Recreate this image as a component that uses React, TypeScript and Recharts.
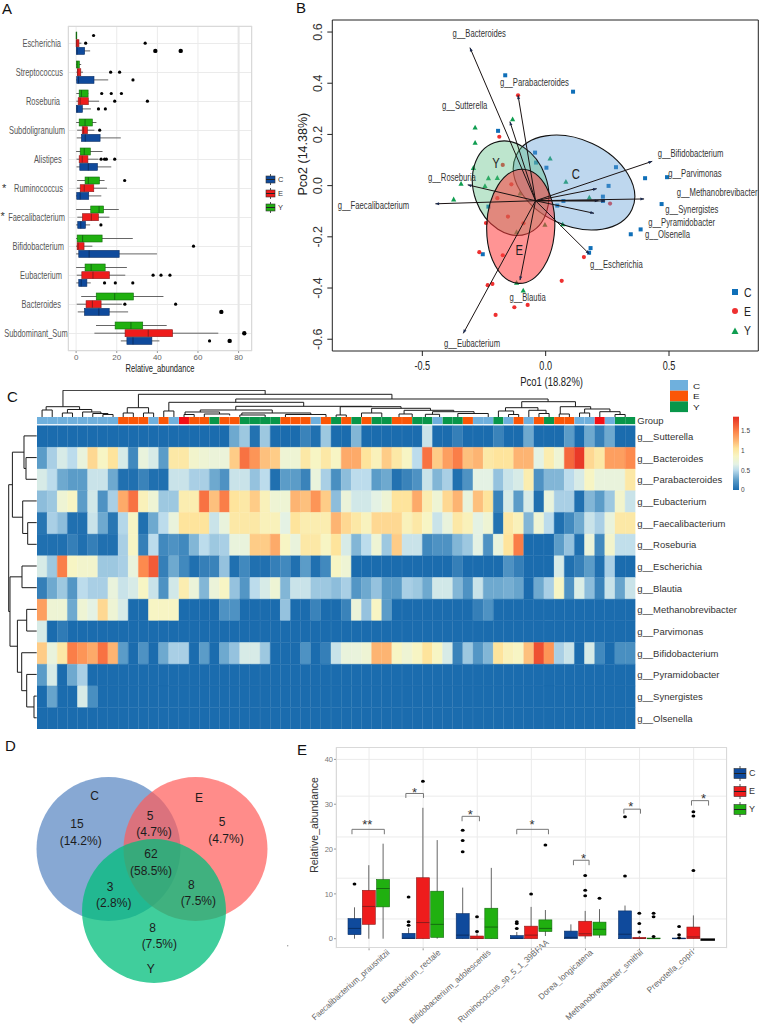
import React from "react";
import {
  Bar,
  BarChart,
  CartesianGrid,
  Cell,
  ComposedChart,
  ReferenceArea,
  ReferenceDot,
  ReferenceLine,
  Scatter,
  ScatterChart,
  XAxis,
  YAxis,
} from "recharts";

const SANS = "'Liberation Sans', Arial, sans-serif";
const BOX_COLORS: Record<string, string> = { C: "#0f4a9c", E: "#ee1c1c", Y: "#20b010" };

// lo, q1, median, q3, hi, outliers
type Stat = [number, number, number, number, number, number[]];

// panel A
const aTaxa = [
  "Escherichia", "Streptococcus", "Roseburia", "Subdoligranulum", "Alistipes", "Ruminococcus",
  "Faecalibacterium", "Bifidobacterium", "Eubacterium", "Bacteroides", "Subdominant_Sum",
];
const aTickEnds = [61, 63, 60, 65, 61.7, 63, 65, 64, 62, 61, 67.7];
const aBigDots = [39, 51.5, 71.5, 75.6, 82.8];
const aY: Stat[] = [
  [0, 0.05, 0.1, 0.3, 0.4, [8.6]],
  [0.1, 0.2, 0.5, 1.6, 2.5, []],
  [0.1, 1.5, 2.6, 5.9, 6, [12.6, 17.3, 22.3]],
  [0, 1.5, 4.4, 8, 10, []],
  [0, 2, 4, 7, 13, []],
  [0.5, 4.4, 6, 11.5, 14, [23.9]],
  [0, 7.2, 11.3, 13.5, 21, []],
  [0, 0.5, 3.2, 12.8, 27.9, []],
  [0, 4.4, 7.4, 14.3, 25, []],
  [2.5, 9.9, 19, 28.2, 43, []],
  [9.8, 19.2, 27, 32.8, 44.6, []],
];
const aE: Stat[] = [
  [0, 0, 0.3, 1.4, 2.6, [4.7, 34]],
  [0.1, 0.6, 0.8, 2.3, 3.4, [17, 21.4]],
  [0.1, 1, 2, 6, 11.3, [19, 35.1]],
  [0.5, 3, 3.7, 5.6, 9, [11.6]],
  [0.2, 1.5, 3, 5.8, 11, [12.3, 14, 14.9, 19]],
  [0.3, 2, 4, 8.7, 15.2, []],
  [0.6, 3.1, 7.5, 11, 16.4, []],
  [0, 0.5, 1, 3.9, 8, [57.8]],
  [0.3, 2.8, 8.3, 16.4, 24.2, [37.9, 41.8, 46.2]],
  [0.3, 4.9, 8, 12.3, 22.5, [24, 49]],
  [9, 24.1, 35.5, 47.5, 70, [82.8]],
];
const aC: Stat[] = [
  [0, 0.1, 0.5, 4.2, 6.9, [39, 51.5]],
  [0, 0.3, 1.2, 8.8, 15.8, [28]],
  [0, 0.1, 0.5, 3.1, 7.3, [11, 14.4]],
  [0.3, 2.6, 4.5, 11.8, 22, []],
  [0.2, 1.8, 6, 10.5, 17.3, []],
  [0, 0.3, 2, 6.2, 12.4, []],
  [0, 0.8, 2.3, 4.6, 6.9, [12.2]],
  [0, 1.3, 6.4, 21.2, 39.8, []],
  [0.1, 1.3, 2.5, 5.3, 7.2, [14, 19.3, 27.9]],
  [0.8, 4.1, 11.2, 16.3, 25.6, [71.5]],
  [22, 25, 28, 37.3, 41, [65.7, 75.6]],
];

// panel B
const bPointsC = [
  [-0.164, 0.431], [0.111, 0.367], [-0.193, 0.214], [-0.043, 0.129], [-0.039, 0.09], [0.003, 0.07],
  [0.285, 0.072], [0.403, 0.029], [0.492, 0.033], [0.255, -0.001], [0.232, -0.043], [0.232, -0.06],
  [0.047, -0.078], [0.47, -0.072], [0.385, -0.171], [0.345, -0.19], [0.182, -0.244], [0.176, -0.262],
  [-0.255, -0.268], [-0.232, -0.082], [0.072, -0.06],
];
const bPointsE = [
  [-0.112, 0.353], [-0.188, 0.191], [-0.174, 0.081], [-0.139, 0.005], [-0.196, -0.049], [-0.153, -0.121],
  [-0.242, -0.146], [0.261, -0.07], [-0.269, -0.26], [-0.174, -0.272], [0.155, -0.279], [-0.235, -0.389],
  [-0.216, -0.384], [0.065, -0.372], [-0.073, -0.466], [-0.127, -0.475], [-0.203, -0.505], [-0.09, -0.147],
];
const bPointsY = [
  [-0.134, 0.26], [-0.286, 0.228], [-0.286, 0.168], [-0.293, 0.07], [-0.232, 0.03], [-0.196, 0.031],
  [-0.246, -0.001], [-0.343, 0.008], [-0.373, -0.053], [0.018, 0.107], [0.082, 0.016], [0.177, -0.046],
  [0.069, -0.15], [-0.003, -0.152], [-0.118, -0.181], [-0.091, -0.409], [-0.118, -0.379], [-0.104, -0.03],
];
const bOrigin = [-0.041, -0.059];
const bArrowTips = [
  [-0.307, 0.539], [-0.112, 0.353], [-0.145, 0.25], [0.432, 0.095], [-0.447, -0.071], [-0.316, 0.003],
  [0.207, -0.012], [0.399, -0.052], [0.214, -0.059], [0.241, -0.06], [0.196, -0.108], [0.177, -0.267],
  [-0.104, -0.369], [-0.334, -0.577],
];
const bLabels = [
  "g__Bacteroides", "g__Parabacteroides", "g__Sutterella", "g__Bifidobacterium", "g__Parvimonas",
  "g__Methanobrevibacter", "g__Synergistes", "g__Pyramidobacter", "g__Olsenella", "g__Escherichia",
  "g__Blautia", "g__Eubacterium", "g__Faecalibacterium", "g__Roseburia",
];
const bLabelSpots = [
  [-0.378, 0.596], [-0.185, 0.406], [-0.42, 0.3125], [0.454, 0.128], [0.497, 0.048],
  [0.531, -0.025], [0.485, -0.091], [0.416, -0.141], [0.403, -0.189], [0.18, -0.306],
  [-0.147, -0.434], [-0.412, -0.616], [-0.843, -0.076], [-0.477, 0.035],
];
// name, cx, cy, rx, ry, rotation in degrees, fill
const bEllipses: [string, number, number, number, number, number, string][] = [
  ["C", 0.115, 0.012, 0.259, 0.168, 25, "rgba(100,160,215,0.42)"],
  ["Y", -0.142, -0.01, 0.149, 0.189, -20, "rgba(90,190,130,0.4)"],
  ["E", -0.101, -0.159, 0.138, 0.223, 2, "rgba(255,60,60,0.55)"],
];
const bEllipseLetters: [string, number, number][] = [
  ["C", 0.122, 0.046],
  ["Y", -0.201, 0.09],
  ["E", -0.107, -0.249],
];

// panel C
const cGroups = [
  "C", "C", "C", "C", "C", "C", "C", "C", "E", "E", "E", "C", "E", "C", "R", "E", "E", "Y", "E", "E",
  "Y", "Y", "Y", "Y", "E", "E", "E", "C", "E", "Y", "E", "Y", "E", "Y", "Y", "E", "E", "Y", "Y", "C",
  "Y", "Y", "E", "C", "C", "Y", "C", "E", "C", "E", "Y", "E", "E", "C", "C", "R", "C", "Y", "Y",
];
const cGroupColors: Record<string, string> = { C: "#6fb0dd", E: "#fb5607", Y: "#08964a", R: "#f50f14" };
const cGenera = [
  "g__Sutterella", "g__Bacteroides", "g__Parabacteroides", "g__Eubacterium", "g__Faecalibacterium",
  "g__Roseburia", "g__Escherichia", "g__Blautia", "g__Methanobrevibacter", "g__Parvimonas",
  "g__Bifidobacterium", "g__Pyramidobacter", "g__Synergistes", "g__Olsenella",
];
const heatSutterella = [
  0, 0, 0, 0, 0, 0, 0, 0, 0, 0,
  0, 0, 0, 0, 0, 0, 0, 0, 0, 0.3,
  0.42, 0.03, 0.42, 0, 0, 0, 0.12, 0.02, 0.42, 0,
  0, 0.35, 0, 0, 0, 0, 0, 0, 0.55, 0,
  0, 0.1, 0, 0, 0, 0.12, 0, 0, 0.3, 0,
  0, 0, 0.25, 0, 0.3, 0.1, 0.3, 0, 0,
];
const heatBacteroides = [
  0.25, 0.45, 0.6, 0.5, 0.7, 1.1, 0.85, 1.05, 0.6, 0.15,
  0.7, 0.6, 0.25, 1, 1, 0.8, 0.75, 0.72, 0.72, 1.15,
  1.55, 1.4, 1.2, 1.15, 0.75, 0.75, 1, 0.85, 1, 0.85,
  1.3, 1.3, 1.05, 0.9, 1.15, 1, 0.85, 0.5, 1.55, 1.15,
  1.35, 1.5, 1.2, 1.25, 1, 1.05, 1.05, 1.25, 1.25, 0.65,
  0.95, 0.75, 1.6, 1.8, 1.1, 1, 1.35, 1.35, 1.45,
];
const heatParabacteroides = [
  0.6, 0.5, 0.3, 0.25, 0.25, 0.55, 0.55, 0.3, 0.02, 0.02,
  0.12, 0.02, 0.02, 0.55, 0.55, 0.45, 0.45, 0.3, 0.2, 0.55,
  0.55, 0.4, 0.5, 0.02, 0.25, 0.25, 0.12, 0.7, 0.45, 0.18,
  0.38, 0.5, 0.5, 0.25, 0.3, 0.03, 0.12, 0.2, 0.55, 0.35,
  0.45, 0.02, 0.2, 0.65, 0.65, 0.4, 0.55, 0.6, 0.95, 0.2,
  0.35, 0.35, 0.5, 0.6, 0.85, 0.7, 0.7, 0.7, 1,
];
const heatEubacterium = [
  0.38, 0.42, 0.75, 0.85, 0.25, 0.58, 0.2, 0.45, 1.3, 1.55,
  0.9, 0.75, 0.42, 0.42, 0.95, 0.95, 1.55, 1.2, 1.5, 1.05,
  1, 1.15, 0.9, 0.75, 0.75, 1.25, 1.2, 1.4, 1.15, 0.38,
  0.72, 0.58, 0.58, 0.65, 0.75, 1.05, 1.05, 1.3, 0.95, 0.75,
  1.1, 1.25, 0.7, 1.2, 1.05, 0.12, 0.6, 0.25, 0.6, 0.02,
  0.7, 0.45, 0.45, 0.02, 0.35, 0.25, 0.42, 0.8, 0.55,
];
const heatFaecalibacterium = [
  0.05, 0.45, 0.38, 0.02, 0.02, 0.55, 0.3, 0.05, 0.48, 0.85,
  0.02, 0.3, 0.5, 0.7, 1.05, 1.05, 1.05, 0.55, 0.7, 1,
  1, 1, 0.9, 0.9, 0.65, 1.05, 0.95, 0.95, 0.95, 1.25,
  1.1, 1, 0.88, 1.1, 1.1, 1.1, 0.9, 1, 0.85, 0.55,
  0.7, 1, 0.9, 0.65, 0.75, 0.03, 1, 0.9, 0.35, 0.75,
  0.5, 0.02, 0.15, 0.3, 0.55, 0.45, 0.7, 1, 1,
];
const heatRoseburia = [
  0.02, 0.02, 0.02, 0.1, 0.02, 0.1, 0.02, 0.02, 0.45, 0.85,
  0.1, 0.5, 0.15, 0.2, 0.15, 0.35, 0.5, 0.42, 0.45, 0.7,
  0.7, 1.15, 1.15, 1.3, 0.85, 0.7, 1, 1, 0.85, 1.05,
  0.6, 0.35, 0.5, 0.75, 0.42, 1.15, 0.55, 0.55, 0.15, 0.2,
  0.2, 0.35, 0.42, 0.65, 0.2, 0.7, 1.05, 1.5, 0, 0,
  0, 0.25, 0.4, 0.02, 0.72, 0.15, 0.8, 0.52, 0.52,
];
const heatEscherichia = [
  0.6, 0.42, 1.5, 0.85, 0.8, 0.8, 0.42, 0.42, 0.45, 0.7,
  1.45, 1.65, 0.1, 0.3, 0.15, 0.02, 0.1, 0.12, 0.4, 0.02,
  0.15, 0.02, 0.02, 0.1, 0.15, 0.02, 0.25, 0.02, 0.15, 0.85,
  0.75, 0, 0, 0, 0, 0, 0, 0, 0, 0,
  0, 0.1, 0, 0, 0, 0, 0.2, 0.1, 0, 0,
  0, 0.6, 0.02, 0.1, 0.25, 0.02, 0.45, 0, 0,
];
const heatBlautia = [
  0.1, 0.3, 0.42, 0.22, 0.5, 0.45, 0.45, 0.7, 0.55, 0.6,
  0.85, 0.55, 0.2, 0.58, 0.95, 0.72, 0.35, 0.72, 0.85, 0.4,
  0.22, 0.5, 0.6, 0.75, 0.35, 0.55, 0.55, 0.42, 0.42, 0.38,
  0.45, 0.22, 0.3, 0.4, 0.25, 0.25, 0.45, 0.42, 0.3, 0.58,
  0.58, 0.35, 0.2, 0.55, 0.3, 0.3, 0.32, 0.28, 0, 0.3,
  0.45, 0.85, 0.2, 0.62, 0.38, 0.12, 0.55, 0.28, 0.55,
];
const heatMethanobrevibacter = [
  1.35, 0.75, 0.75, 0.3, 0.75, 0.65, 1.1, 0.75, 0.6, 0,
  0, 0.85, 0.85, 0.85, 0, 0, 0, 0, 0.2, 0.2,
  0, 0, 0, 0, 0.4, 0, 0, 0.12, 0, 0,
  0.12, 0.72, 0.4, 0.85, 0.25, 0, 0, 0, 0, 0,
  0, 0, 0, 0.1, 0.2, 0, 0, 0, 0, 0,
  0, 0, 0, 0, 0, 0, 0, 0, 0,
];
const heatParvimonas = [
  0.6, 0, 0.08, 0, 0, 0, 0, 0, 0, 0,
  0, 0, 0, 0, 0, 0, 0, 0, 0, 0,
  0, 0, 0, 0, 0, 0, 0, 0, 0, 0,
  0, 0, 0, 0, 0, 0, 0, 0, 0, 0,
  0, 0, 0, 0, 0, 0, 0, 0, 0, 0,
  0, 0, 0, 0, 0, 0, 0, 0, 0,
];
const heatBifidobacterium = [
  1.15, 0.7, 1, 1.5, 1.4, 1.3, 1.55, 1.25, 0.25, 0,
  0.2, 0, 0.3, 0.45, 0.45, 0, 0.25, 0, 0.3, 0.4,
  0.6, 0.6, 0.42, 0, 0, 0, 0.2, 0, 0.1, 0.55,
  0.7, 0.7, 0.75, 1.25, 1.25, 0.85, 0.75, 0.85, 1.05, 0.85,
  0.6, 0.12, 0.42, 0.22, 0.35, 1.05, 0.9, 0.85, 1.2, 1.7,
  1.4, 0.45, 0.55, 0, 0.6, 0.15, 0, 0.18, 0.18,
];
const heatPyramidobacter = [
  0.25, 0.6, 0, 0.3, 0.45, 0, 0, 0, 0, 0,
  0, 0, 0, 0, 0, 0, 0, 0, 0, 0,
  0, 0, 0, 0, 0, 0, 0, 0, 0, 0,
  0, 0, 0, 0, 0, 0, 0, 0, 0, 0,
  0, 0, 0, 0, 0, 0, 0, 0, 0, 0,
  0, 0, 0, 0, 0, 0, 0, 0, 0,
];
const heatSynergistes = [
  0, 0.28, 0, 0, 0.6, 0.18, 0, 0, 0, 0,
  0, 0, 0, 0, 0, 0, 0, 0, 0, 0,
  0, 0, 0, 0, 0, 0, 0, 0, 0, 0,
  0, 0, 0, 0, 0, 0, 0, 0, 0, 0,
  0, 0, 0, 0, 0, 0, 0, 0, 0, 0,
  0, 0, 0, 0, 0, 0, 0, 0, 0,
];
const heatOlsenella = [
  0, 0, 0, 0, 0, 0, 0, 0, 0, 0,
  0, 0, 0, 0, 0, 0, 0, 0, 0, 0,
  0, 0, 0, 0, 0, 0, 0, 0, 0, 0,
  0, 0, 0, 0, 0, 0, 0, 0, 0, 0,
  0, 0, 0, 0, 0, 0, 0, 0, 0, 0,
  0, 0, 0, 0, 0, 0, 0, 0, 0,
];
const heatRows = [
  heatSutterella, heatBacteroides, heatParabacteroides, heatEubacterium, heatFaecalibacterium,
  heatRoseburia, heatEscherichia, heatBlautia, heatMethanobrevibacter, heatParvimonas,
  heatBifidobacterium, heatPyramidobacter, heatSynergistes, heatOlsenella,
];
// a, b, height, height of a, height of b
const topMerges = [
  [2.56, 22.5, 26.7, 10.3, 22.7],
  [0.9, 4.2, 10.3, 7, 7.5],
  [0.5, 1.5, 7, 0, 0],
  [3, 5.4, 7.5, 4, 5],
  [2.5, 3.5, 4, 0, 0],
  [4.5, 6.3, 5, 0, 3.5],
  [5.5, 7, 3.5, 0, 2.5],
  [6.5, 7.5, 2.5, 0, 0],
  [10, 35, 22.7, 9.3, 18],
  [8.9, 11, 9.3, 4, 4],
  [8.5, 9.5, 4, 0, 0],
  [10.5, 11.5, 4, 0, 0],
  [19.6, 50.4, 18, 14.7, 15.3],
  [13, 26.3, 14.7, 6, 10.7],
  [12.5, 13.5, 6, 0, 0],
  [19.6, 33, 10.7, 7, 10.3],
  [16.1, 23.2, 7, 5, 4],
  [14.6, 18, 5, 2.5, 3],
  [14.5, 15.5, 2.5, 0, 0],
  [16.5, 19, 3, 0, 1.5],
  [20.2, 27, 4, 2, 2.5],
  [20, 22.5, 2, 0, 0],
  [24.5, 28.5, 2.5, 0, 0],
  [29.9, 35.9, 10.3, 2, 8.7],
  [29.5, 30.5, 2, 0, 0],
  [33, 38.8, 8.7, 4, 6.7],
  [32, 34, 4, 0, 0],
  [36.2, 41.1, 6.7, 3, 5.3],
  [35.7, 37, 3, 0, 0],
  [39, 43.1, 5.3, 2.7, 3.5],
  [38.3, 39.7, 2.7, 0, 0],
  [41.5, 44.5, 3.5, 0, 0],
  [47.8, 53.1, 15.3, 9.3, 10.3],
  [46.2, 49.4, 9.3, 6, 6.7],
  [45.5, 47, 6, 0, 2.5],
  [46.5, 47.5, 2.5, 0, 0],
  [48.5, 50.2, 6.7, 0, 3.5],
  [49.5, 50.5, 3.5, 0, 0],
  [51.6, 54.6, 10.3, 3, 8],
  [51.5, 52.5, 3, 0, 0],
  [54, 56.5, 8, 4, 5.3],
  [53.5, 54.5, 4, 0, 0],
  [55.5, 57.5, 5.3, 0, 2.5],
  [57, 58, 2.5, 0, 0],
];
const leftMerges = [
  [1.5, 2.5, 10.7, 0, 0],
  [0.5, 2, 12.7, 0, 10.7],
  [4.5, 5.5, 9, 0, 0],
  [3.5, 5, 14, 0, 9],
  [1.25, 4.25, 24.3, 12.7, 14],
  [6.5, 7.5, 14.7, 0, 0],
  [8.5, 9.5, 10, 0, 0],
  [12.5, 13.5, 2.7, 0, 0],
  [11.5, 13, 10, 0, 2.7],
  [10.5, 12.25, 15, 0, 10],
  [9, 11.4, 19.3, 10, 15],
  [7, 10.2, 26.7, 14.7, 19.3],
  [2.75, 8.6, 28, 24.3, 26.7],
];
const colorStops: [number, string][] = [
  [0, "#1b6cae"], [0.25, "#5b9cc8"], [0.5, "#bcdcec"], [0.65, "#e4f2e4"], [0.85, "#f7f5c4"],
  [1.05, "#fee49c"], [1.25, "#fdb472"], [1.45, "#fd8a4e"], [1.62, "#f4623a"], [1.85, "#e62e22"],
];

// panel D
const vennCircles: [number, number, string][] = [
  [108.5, 114, "rgba(84,131,192,0.7)"],
  [195.5, 114, "rgba(255,91,88,0.7)"],
  [154, 176, "rgba(0,190,123,0.75)"],
];
const vennLabels: [string, number, number][] = [
  ["C", 94.7, 61], ["E", 199, 63], ["Y", 150.7, 234],
  ["15", 77, 89], ["(14.2%)", 80.7, 105.7],
  ["5", 150, 81], ["(4.7%)", 154, 97],
  ["5", 222, 87], ["(4.7%)", 226, 103.7],
  ["62", 151, 119], ["(58.5%)", 151, 135.7],
  ["3", 110, 151.7], ["(2.8%)", 113.7, 167.7],
  ["8", 191.3, 149.3], ["(7.5%)", 198.3, 165.3],
  ["8", 152.7, 192.7], ["(7.5%)", 159.3, 209],
];

// panel E
const eTaxa = [
  "Faecalibacterium_prausnitzii", "Eubacterium_rectale", "Bifidobacterium_adolescentis",
  "Ruminococcus_sp_5_1_39BFAA", "Dorea_longicatena", "Methanobrevibacter_smithii", "Prevotella_copri",
];
const eTickLengths = [101, 76, 106, 119, 70, 100.7, 60];
const eTickEnds = [21, 18, 14, 18, 8, 4, 1];
const eTickRise = [0, 0, 0, 10, 0, 0, 0];
const eGridValues = [0, 4.4, 9, 10, 13.5, 18, 20, 22.7, 30, 31.8, 36.7, 40];
const eC: Stat[] = [
  [0, 0.9, 2.3, 4.5, 7, [12.2]],
  [0, 0, 0.1, 1.2, 2.4, [3, 3.8, 9.3]],
  [0, 0, 0.8, 5.6, 11.4, [19.4, 21.9, 24.2]],
  [0, 0, 0.1, 0.7, 1.5, [2.3, 3.4, 3.8]],
  [0, 0, 0.3, 1.7, 3.2, []],
  [0, 0, 1, 6.2, 7.4, [14, 27.2]],
  [0, 0, 0.02, 0.15, 0.2, [0.2, 0.9, 2.7]],
];
const eE: Stat[] = [
  [0, 3.2, 7.2, 10.8, 16.4, []],
  [0, 0, 3.6, 13.6, 29.2, [35.1]],
  [0, 0, 0.1, 0.6, 1.2, [1.6, 4.9]],
  [0, 0, 0.8, 2.8, 7.1, [10]],
  [0, 0.6, 1.1, 3.9, 6.2, [9.6, 10.8, 14.1]],
  [0, 0, 0.05, 0.3, 0.6, [1.5, 3.4, 5.7]],
  [0, 0, 0.4, 2.6, 5.2, [15.2, 27.4, 28.3]],
];
const eY: Stat[] = [
  [0, 7.1, 11.2, 13.2, 21.2, []],
  [0, 0.3, 3.2, 10.6, 22, []],
  [0, 0, 2.6, 6.8, 15.8, []],
  [0.6, 1.6, 2.3, 4.2, 6.4, [20.9]],
  [0.2, 0.8, 2.1, 3.7, 6.6, [9]],
  [0, 0, 0.02, 0.15, 0.2, [0.5, 4.9, 5.7]],
  [-0.2, -0.3, -0.2, -0.1, -0.1, []],
];
// from, to, top, foot
const eBrackets = [
  [-0.314, 0.283, 24.4, 23.3],
  [0.68, 1.006, 32.4, 31.4],
  [1.717, 2.037, 27.3, 26.2],
  [2.726, 3.311, 24.4, 23.3],
  [3.772, 4.06, 17.5, 16.4],
  [4.702, 5.009, 28.9, 27.9],
  [5.95, 6.265, 30.8, 29.7],
];
const eStars: [string, number, number][] = [
  ["**", -0.03, 25.6],
  ["*", 0.84, 32.7],
  ["*", 1.87, 27.7],
  ["*", 3.01, 25.5],
  ["*", 3.96, 17.8],
  ["*", 4.83, 29.4],
  ["*", 6.17, 31.2],
];

const buildRows = (names: string[], c: Stat[], e: Stat[], y: Stat[]) =>
  names.map((name, i) => ({
    name,
    C: [c[i][1], c[i][3]],
    E: [e[i][1], e[i][3]],
    Y: [y[i][1], y[i][3]],
    stats: { C: c[i], E: e[i], Y: y[i] },
  }));
const aRows = buildRows(aTaxa, aC, aE, aY);
const eRows = buildRows(eTaxa, eC, eE, eY);
const heatData = cGroups.map((group, col) => ({ col, group }));

function heatColor(v: number) {
  for (let i = 1; i < colorStops.length; i++) {
    if (v <= colorStops[i][0]) {
      const [v0, c0] = colorStops[i - 1];
      const [v1, c1] = colorStops[i];
      const t = (v - v0) / (v1 - v0);
      const rgb = [1, 3, 5].map((p) => {
        const a = parseInt(c0.slice(p, p + 2), 16);
        const b = parseInt(c1.slice(p, p + 2), 16);
        return Math.round(a + (b - a) * t);
      });
      return `rgb(${rgb.join(",")})`;
    }
  }
  return colorStops[colorStops.length - 1][1];
}

// the source figure was stretched, so horizontal text is squeezed
function Sq({ x, y, text, size, sx = 0.72, fill = "#333", anchor = "start" }: any) {
  return (
    <text
      transform={`translate(${x} ${y}) scale(${sx} 1)`}
      dy="0.35em"
      fontSize={size}
      fontFamily={SANS}
      fill={fill}
      textAnchor={anchor}
    >
      {text}
    </text>
  );
}

// horizontal box, takes the px/unit ratio from the bar recharts gives it
const hBox = (key: string) => (p: any) => {
  const s: Stat = p.payload.stats[key];
  const k = p.width / (s[3] - s[1] || 1);
  const at = (v: number) => p.x + (v - s[1]) * k;
  const mid = p.y + p.height / 2;
  const dark = key === "E" ? "#8c1c1c" : key === "C" ? "#0a2f66" : "#146b10";
  return (
    <g>
      <line x1={at(s[0])} x2={at(s[4])} y1={mid} y2={mid} stroke="#555" strokeWidth={0.9} />
      <rect x={p.x} y={p.y} width={Math.max(p.width, 0.6)} height={p.height} fill={BOX_COLORS[key]} stroke={dark} strokeWidth={0.6} />
      <line x1={at(s[2])} x2={at(s[2])} y1={p.y} y2={p.y + p.height} stroke={dark} strokeWidth={1} />
      {s[5].map((o, i) => (
        <circle key={i} cx={at(o)} cy={mid} r={aBigDots.includes(o) ? 2.2 : 1.6} fill="#000" />
      ))}
    </g>
  );
};

const vBox = (key: string) => (p: any) => {
  const s: Stat = p.payload.stats[key];
  const h = Math.abs(p.height);
  const bottom = p.y + Math.max(p.height, 0);
  const k = h / (s[3] - s[1] || 1);
  const at = (v: number) => bottom - (v - s[1]) * k;
  const mid = p.x + p.width / 2;
  const dark = key === "E" ? "#8c1c1c" : key === "C" ? "#0a2f66" : "#146b10";
  const flat = s[4] < 0;
  return (
    <g>
      <line x1={mid} x2={mid} y1={at(s[0])} y2={at(s[4])} stroke="#666" strokeWidth={1} />
      <rect x={p.x} y={bottom - h} width={p.width} height={Math.max(h, 0.6)} fill={flat ? "#000" : BOX_COLORS[key]} stroke={flat ? "#000" : dark} strokeWidth={flat ? 1.5 : 0.6} />
      {!flat && <line x1={p.x} x2={p.x + p.width} y1={at(s[2])} y2={at(s[2])} stroke={dark} strokeWidth={1} />}
      {s[5].map((o, i) => (
        <ellipse key={i} cx={mid} cy={at(o)} rx={1.9} ry={1.5} fill="#000" />
      ))}
    </g>
  );
};

const arrowLine = (p: any) => {
  const ang = Math.atan2(p.y2 - p.y1, p.x2 - p.x1);
  const s = 4;
  const ax = p.x2 - s * Math.cos(ang - 0.4);
  const ay = p.y2 - s * Math.sin(ang - 0.4);
  const bx = p.x2 - s * Math.cos(ang + 0.4);
  const by = p.y2 - s * Math.sin(ang + 0.4);
  return (
    <g>
      <line x1={p.x1} y1={p.y1} x2={p.x2} y2={p.y2} stroke="#1a1212" strokeWidth={1} />
      <polygon points={`${p.x2},${p.y2} ${ax},${ay} ${bx},${by}`} fill="#1a2a50" />
    </g>
  );
};

const label = (text: string, size: number, fill: string, anchor = "start", sx = 1) => (p: any) => (
  <Sq x={p.cx} y={p.cy} text={text} size={size} fill={fill} anchor={anchor} sx={sx} />
);

const squareDot = (p: any) => <rect x={p.cx - 2} y={p.cy - 2} width={4} height={4} fill="#0f6fb8" />;
const roundDot = (p: any) => <circle cx={p.cx} cy={p.cy} r={2.1} fill="#ee3030" />;
const triangleDot = (p: any) => (
  <polygon points={`${p.cx - 2.6},${p.cy + 2.2} ${p.cx},${p.cy - 2.6} ${p.cx + 2.6},${p.cy + 2.2}`} fill="#0f9d50" />
);
const noDot = () => null;

const aTaxonTick = (p: any) => (
  <Sq x={aTickEnds[p.index]} y={p.y} text={p.payload.value} size={11} sx={0.68} fill="#555" anchor="end" />
);

const bXTick = (p: any) => (
  <Sq x={p.x} y={p.y + 7} text={Number(p.payload.value).toFixed(1)} size={13} sx={0.7} fill="#222" anchor="middle" />
);

const rotatedTick = (p: any) => (
  <text x={p.x - 3} y={p.y} fontSize={12.5} fill="#333" fontFamily={SANS} textAnchor="middle" transform={`rotate(-90 ${p.x - 3} ${p.y})`}>
    {Number(p.payload.value).toFixed(1)}
  </text>
);

const eTick = (p: any) => {
  const x = p.x + eTickEnds[p.index];
  const y = p.y + 1 - eTickRise[p.index];
  return (
    <text
      x={x}
      y={y}
      fontSize={8.5}
      fill="#666"
      fontFamily={SANS}
      textAnchor="end"
      textLength={eTickLengths[p.index]}
      lengthAdjust="spacingAndGlyphs"
      transform={`rotate(-42 ${x} ${y})`}
    >
      {p.payload.value}
    </text>
  );
};

function BoxKey({ left, top, w, h, tall, color, text, size }: any) {
  const cx = w / 2;
  return (
    <div style={{ position: "absolute", left, top, height: tall, display: "flex", alignItems: "center" }}>
      <svg width={w + 2} height={tall} style={{ display: "block" }}>
        <line x1={cx + 1} x2={cx + 1} y1={0} y2={tall} stroke="#555" />
        <rect x={1} y={(tall - h) / 2} width={w} height={h} fill={color} stroke="#333" strokeWidth={0.6} />
        <line x1={1} x2={w + 1} y1={tall / 2} y2={tall / 2} stroke="#222" />
      </svg>
      <span style={{ fontFamily: SANS, fontSize: size, color: "#333", marginLeft: 2 }}>{text}</span>
    </div>
  );
}

function PanelA() {
  return (
    <div style={{ position: "absolute", left: 0, top: 0 }}>
      <ComposedChart
        width={290}
        height={380}
        data={aRows}
        layout="vertical"
        margin={{ top: 26, right: 38, bottom: 0, left: 0 }}
        barSize={7}
        barGap={0.7}
      >
        <CartesianGrid stroke="#ebebeb" />
        <XAxis
          type="number"
          domain={[-4, 86.6]}
          ticks={[0, 20, 40, 60, 80]}
          height={29}
          tick={{ fontSize: 8, fill: "#666", fontFamily: SANS }}
          tickSize={2}
          tickMargin={1}
          stroke="#999"
          axisLine={false}
        />
        <YAxis
          type="category"
          dataKey="name"
          width={68}
          interval={0}
          padding={{ top: 3, bottom: 3 }}
          tick={aTaxonTick}
          tickSize={0}
          axisLine={false}
        />
        <ReferenceLine x={80} stroke="#e6e6e6" strokeWidth={2} />
        <Bar dataKey="Y" isAnimationActive={false} shape={hBox("Y")} />
        <Bar dataKey="E" isAnimationActive={false} shape={hBox("E")} />
        <Bar dataKey="C" isAnimationActive={false} shape={hBox("C")} />
      </ComposedChart>
      <div style={{ position: "absolute", left: 68, top: 26, width: 184, height: 325, boxSizing: "border-box", border: "1px solid #d9d9d9" }} />
      <BoxKey left={265} top={174} w={9} h={7} tall={11} color={BOX_COLORS.C} text="C" size={7.5} />
      <BoxKey left={265} top={188} w={9} h={7} tall={11} color={BOX_COLORS.E} text="E" size={7.5} />
      <BoxKey left={265} top={202} w={9} h={7} tall={11} color={BOX_COLORS.Y} text="Y" size={7.5} />
    </div>
  );
}

function PanelB() {
  return (
    <div style={{ position: "absolute", left: 290, top: 0 }}>
      <ScatterChart width={470} height={390} margin={{ top: 20, right: 1.7, bottom: 0, left: 0 }}>
        <XAxis
          type="number"
          dataKey="x"
          domain={[-0.865, 0.862]}
          ticks={[-0.5, 0, 0.5]}
          height={39}
          tickSize={5}
          stroke="#222"
          axisLine={false}
          tick={bXTick}
        />
        <YAxis
          type="number"
          dataKey="y"
          domain={[-0.646, 0.647]}
          ticks={[-0.6, -0.4, -0.2, 0, 0.2, 0.4, 0.6]}
          width={42.3}
          tickSize={5}
          stroke="#222"
          axisLine={false}
          tick={rotatedTick}
          label={{ value: "Pco2 (14.38%)", angle: -90, position: "insideLeft", offset: 13, dy: 10, style: { fontSize: 12.5, fontFamily: SANS, fill: "#222" } }}
        />
        <Scatter data={bPointsC.map(([x, y]) => ({ x, y }))} shape={squareDot} isAnimationActive={false} zIndex={500} />
        <Scatter data={bPointsE.map(([x, y]) => ({ x, y }))} shape={roundDot} isAnimationActive={false} zIndex={500} />
        <Scatter data={bPointsY.map(([x, y]) => ({ x, y }))} shape={triangleDot} isAnimationActive={false} zIndex={500} />
        {bEllipses.map(([name, cx, cy, rx, ry, rot, fill]) => (
          <ReferenceArea
            key={name}
            x1={cx - rx}
            x2={cx + rx}
            y1={cy - ry}
            y2={cy + ry}
            ifOverflow="visible"
            zIndex={650}
            shape={(p: any) => (
              <ellipse
                cx={p.x + p.width / 2}
                cy={p.y + p.height / 2}
                rx={p.width / 2}
                ry={p.height / 2}
                fill={fill}
                stroke="#111"
                strokeWidth={1.1}
                transform={`rotate(${rot} ${p.x + p.width / 2} ${p.y + p.height / 2})`}
              />
            )}
          />
        ))}
        {bArrowTips.map(([x, y], i) => (
          <ReferenceLine
            key={i}
            ifOverflow="visible"
            zIndex={700}
            segment={[{ x: bOrigin[0], y: bOrigin[1] }, { x, y }]}
            shape={arrowLine}
          />
        ))}
        {bLabels.map((t, i) => (
          <ReferenceDot
            key={t}
            x={bLabelSpots[i][0]}
            y={bLabelSpots[i][1]}
            r={1}
            ifOverflow="visible"
            zIndex={800}
            shape={label(t, 11, "#333", "start", 0.7)}
          />
        ))}
        {bEllipseLetters.map(([t, x, y]) => (
          <ReferenceDot key={t} x={x} y={y} r={1} ifOverflow="visible" zIndex={800} shape={label(t, 15, "#222", "middle", 0.75)} />
        ))}
        <ReferenceDot x={0.024} y={-0.767} r={1} ifOverflow="visible" shape={label("Pco1 (18.82%)", 12.5, "#222", "middle", 0.76)} />
        <ReferenceArea x1={-0.865} x2={0.862} y1={-0.646} y2={0.647} ifOverflow="visible" zIndex={900} fill="none" stroke="#222" strokeWidth={1} />
      </ScatterChart>
      <svg width={30} height={60} style={{ position: "absolute", left: 438, top: 284 }}>
        <rect x={4} y={5} width={6} height={6} fill="#0f6fb8" />
        <circle cx={7} cy={27} r={3} fill="#ee3030" />
        <polygon points="3.5,50 7,43.5 10.5,50" fill="#0f9d50" />
        <g fontFamily={SANS} fontSize={13} fill="#222">
          <text transform="translate(16 13) scale(0.8 1)">C</text>
          <text transform="translate(16 32) scale(0.8 1)">E</text>
          <text transform="translate(16 51) scale(0.8 1)">Y</text>
        </g>
      </svg>
    </div>
  );
}

function Dendro({ left, top, width, height, merges, side }: any) {
  const isTop = side === "top";
  const seg = (a1: number, h1: number, a2: number, h2: number) =>
    isTop
      ? [{ x: a1, y: h1 }, { x: a2, y: h2 }]
      : [{ x: h1, y: a1 }, { x: h2, y: a2 }];
  const lines = merges.flatMap(([a, b, h, ha, hb]: number[]) => [
    seg(a, ha, a, h),
    seg(a, h, b, h),
    seg(b, h, b, hb),
  ]);
  const nodes = merges.map(([a, , h]: number[]) => (isTop ? { x: a, y: h } : { x: h, y: a }));
  return (
    <div style={{ position: "absolute", left, top }}>
      <ScatterChart width={width} height={height} margin={{ top: 0, right: 0, bottom: 0, left: 0 }}>
        {isTop ? (
          <XAxis hide type="number" dataKey="x" domain={[0, 59]} allowDataOverflow />
        ) : (
          <XAxis hide type="number" dataKey="x" domain={[0, width]} reversed allowDataOverflow />
        )}
        {isTop ? (
          <YAxis hide type="number" dataKey="y" domain={[0, height]} allowDataOverflow />
        ) : (
          <YAxis hide type="number" dataKey="y" domain={[0, 14]} reversed allowDataOverflow />
        )}
        <Scatter data={nodes} shape={noDot} isAnimationActive={false} />
        {lines.map((s: any, i: number) => (
          <ReferenceLine key={i} segment={s} ifOverflow="visible" stroke="#1a1a1a" strokeWidth={1} />
        ))}
      </ScatterChart>
    </div>
  );
}

function PanelC() {
  const stripH = 0.34;
  const gap = 0.06;
  const offset = stripH + gap;
  const ticks = [stripH / 2, ...cGenera.map((_, i) => offset + i + 0.5)];
  const names = ["Group", ...cGenera];
  return (
    <>
      <Dendro left={36.7} top={389.7} width={598.3} height={27} merges={topMerges} side="top" />
      <Dendro left={8} top={425.3} width={28.7} height={303.7} merges={leftMerges} side="left" />
      <div style={{ position: "absolute", left: 36.7, top: 410.7 }}>
        <BarChart
          width={723.3}
          height={318.3}
          data={heatData}
          barCategoryGap={0}
          margin={{ top: 6, right: 0, bottom: 0, left: 0 }}
        >
          <XAxis hide dataKey="col" />
          <YAxis
            orientation="right"
            type="number"
            reversed
            domain={[0, offset + 14]}
            ticks={ticks}
            interval={0}
            width={125}
            tickSize={0}
            tickMargin={2}
            axisLine={false}
            tickFormatter={(_: number, i: number) => names[i]}
            tick={{ fontSize: 9.5, fill: "#333", fontFamily: SANS, textAnchor: "start" }}
          />
          <Bar dataKey={() => stripH} stackId="h" isAnimationActive={false}>
            {cGroups.map((g, i) => (
              <Cell key={i} fill={cGroupColors[g]} />
            ))}
          </Bar>
          <Bar dataKey={() => gap} stackId="h" fill="#fff" isAnimationActive={false} />
          {heatRows.map((row, r) => (
            <Bar key={cGenera[r]} dataKey={() => 1} stackId="h" isAnimationActive={false}>
              {row.map((v, i) => (
                <Cell key={i} fill={heatColor(v)} stroke={heatColor(v)} strokeWidth={0.4} />
              ))}
            </Bar>
          ))}
        </BarChart>
      </div>
      <svg width={92} height={125} style={{ position: "absolute", left: 668, top: 378 }}>
        <defs>
          <linearGradient id="heatBar" x1="0" y1="1" x2="0" y2="0">
            {colorStops.map(([v, c]) => (
              <stop key={v} offset={v / 1.85} stopColor={c} />
            ))}
          </linearGradient>
        </defs>
        <rect x={2} y={2} width={18} height={10.7} fill={cGroupColors.C} />
        <rect x={2} y={12.7} width={18} height={10.7} fill={cGroupColors.E} />
        <rect x={2} y={23.4} width={18} height={10.7} fill={cGroupColors.Y} />
        <g fontFamily={SANS} fontSize={8} fill="#222">
          <text transform="translate(25 10.5) scale(1.25 1)">C</text>
          <text transform="translate(25 21.2) scale(1.25 1)">E</text>
          <text transform="translate(25 32) scale(1.25 1)">Y</text>
        </g>
        <rect x={65} y={38.7} width={6} height={73.3} fill="url(#heatBar)" />
        <g fontFamily={SANS} fontSize={6.5} fill="#444">
          <text x={73} y={55}>1.5</text>
          <text x={73} y={75}>1</text>
          <text x={73} y={94.5}>0.5</text>
          <text x={73} y={114}>0</text>
        </g>
      </svg>
    </>
  );
}

function PanelD() {
  const circles = vennCircles.map(([x, y, fill]) => ({ x, y, fill }));
  return (
    <div style={{ position: "absolute", left: 0, top: 735 }}>
      <ScatterChart width={290} height={291} margin={{ top: 0, right: 0, bottom: 0, left: 0 }}>
        <XAxis hide type="number" dataKey="x" domain={[0, 290]} allowDataOverflow />
        <YAxis hide type="number" dataKey="y" domain={[0, 291]} reversed allowDataOverflow />
        <Scatter
          data={circles}
          isAnimationActive={false}
          shape={(p: any) => <circle cx={p.cx} cy={p.cy} r={72} fill={p.payload.fill} />}
        />
        {vennLabels.map(([t, x, y], i) => (
          <ReferenceDot key={i} x={x} y={y} r={1} ifOverflow="visible" shape={label(t, 12, "#1c1c1c", "middle")} />
        ))}
        <ReferenceDot x={287.7} y={210.7} r={0.7} fill="#999" stroke="none" ifOverflow="visible" />
      </ScatterChart>
    </div>
  );
}

function PanelE() {
  return (
    <div style={{ position: "absolute", left: 290, top: 735 }}>
      <ComposedChart
        width={470}
        height={291}
        data={eRows}
        margin={{ top: 12.3, right: 33.3, bottom: 0, left: 0 }}
        barSize={13}
        barGap={1.3}
      >
        <CartesianGrid stroke="#ebebeb" horizontalValues={eGridValues} />
        <XAxis
          dataKey="name"
          height={77.7}
          interval={0}
          padding={{ left: 6, right: 6 }}
          tick={eTick}
          tickSize={2}
          stroke="#999"
          axisLine={false}
        />
        {/* recharts gives this axis the row index as its domain, the padding lines it up with the bands */}
        <XAxis xAxisId="n" type="number" hide padding={{ left: 33, right: 32.5 }} />
        <YAxis
          type="number"
          domain={[-2.14, 42.7]}
          ticks={[0, 10, 20, 30, 40]}
          width={46}
          tick={{ fontSize: 7.5, fill: "#777", fontFamily: SANS }}
          tickSize={2}
          tickMargin={1}
          stroke="#999"
          axisLine={false}
          label={{ value: "Relative_abundance", angle: -90, position: "insideLeft", offset: 24, dy: 25, style: { fontSize: 10.5, fontFamily: SANS, fill: "#333" } }}
        />
        <Bar dataKey="C" isAnimationActive={false} shape={vBox("C")} />
        <Bar dataKey="E" isAnimationActive={false} shape={vBox("E")} />
        <Bar dataKey="Y" isAnimationActive={false} shape={vBox("Y")} />
        {eBrackets.flatMap(([a, b, top, foot], i) => [
          <ReferenceLine key={`l${i}`} xAxisId="n" segment={[{ x: a, y: foot }, { x: a, y: top }]} stroke="#777" ifOverflow="visible" />,
          <ReferenceLine key={`t${i}`} xAxisId="n" segment={[{ x: a, y: top }, { x: b, y: top }]} stroke="#777" ifOverflow="visible" />,
          <ReferenceLine key={`r${i}`} xAxisId="n" segment={[{ x: b, y: top }, { x: b, y: foot }]} stroke="#777" ifOverflow="visible" />,
        ])}
        {eStars.map(([t, x, y], i) => (
          <ReferenceDot key={i} xAxisId="n" x={x} y={y} r={1} ifOverflow="visible" shape={label(t, 13, "#333", "middle")} />
        ))}
      </ComposedChart>
      <div style={{ position: "absolute", left: 46, top: 12.3, width: 390.7, height: 201, boxSizing: "border-box", border: "1px solid #d9d9d9" }} />
      <BoxKey left={443} top={30.5} w={12} h={10} tall={15} color={BOX_COLORS.C} text="C" size={9} />
      <BoxKey left={443} top={48.5} w={12} h={10} tall={15} color={BOX_COLORS.E} text="E" size={9} />
      <BoxKey left={443} top={66.5} w={12} h={10} tall={15} color={BOX_COLORS.Y} text="Y" size={9} />
    </div>
  );
}

const panelLetters: [string, number, number][] = [
  ["A", 2, 14], ["B", 296, 13], ["C", 7, 402], ["D", 5, 751], ["E", 297, 755],
];

export default function App() {
  return (
    <div style={{ position: "absolute", left: 0, top: 0, width: 760, height: 1026, background: "#fff", overflow: "hidden" }}>
      <PanelD />
      <PanelE />
      <PanelC />
      <PanelB />
      <PanelA />
      <svg width={760} height={1026} style={{ position: "absolute", left: 0, top: 0, pointerEvents: "none" }}>
        {panelLetters.map(([t, x, y]) => (
          <text key={t} x={x} y={y} fontSize={15} fontFamily={SANS} fill="#111">{t}</text>
        ))}
        <text x={2} y={192} fontSize={11} fontFamily={SANS} fill="#333">*</text>
        <text x={0.5} y={220} fontSize={11} fontFamily={SANS} fill="#333">*</text>
        <Sq x={160} y={368} text="Relative_abundance" size={10.5} sx={0.72} fill="#222" anchor="middle" />
      </svg>
    </div>
  );
}
